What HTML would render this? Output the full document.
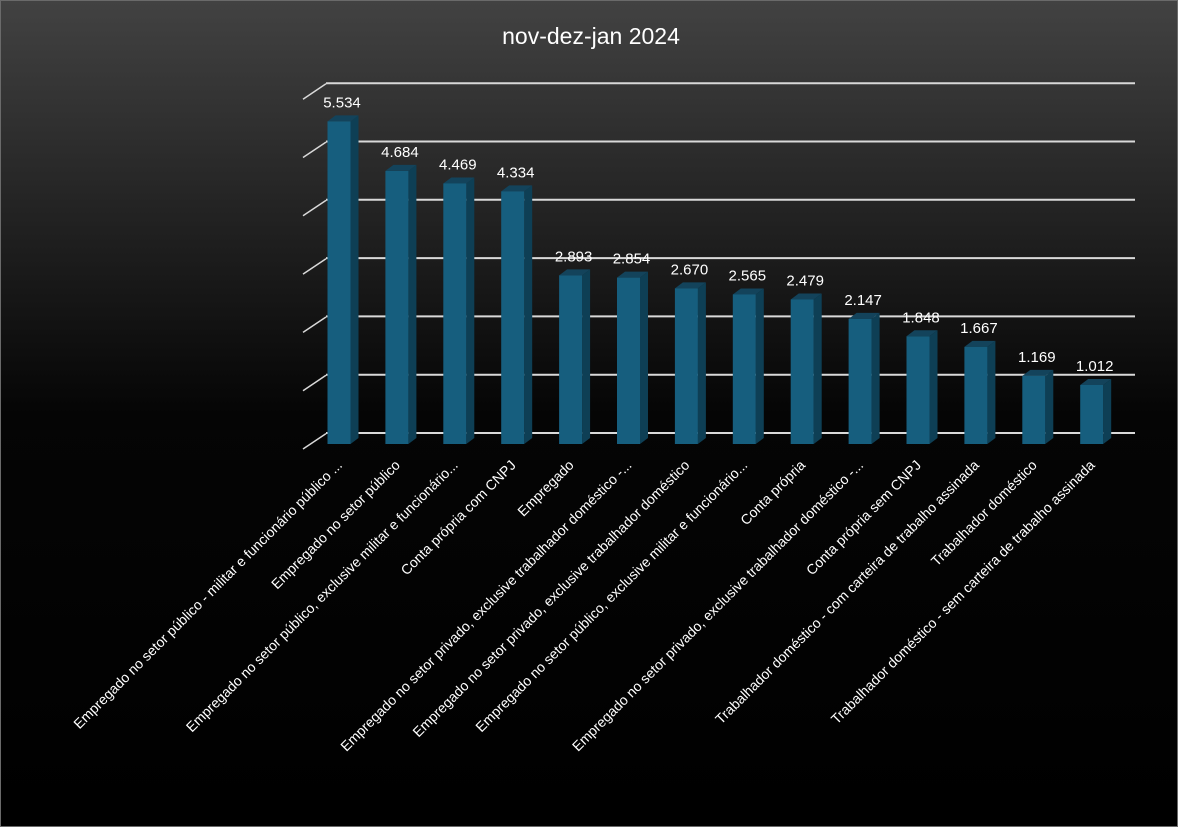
<!DOCTYPE html>
<html><head><meta charset="utf-8"><style>
html,body{margin:0;padding:0;background:#000;}
svg{display:block;font-family:"Liberation Sans",sans-serif;}
</style></head><body>
<svg width="1178" height="827" viewBox="0 0 1178 827">
<defs><linearGradient id="bg" x1="0" y1="0" x2="0" y2="1">
<stop offset="0" stop-color="#424242"/><stop offset="0.5" stop-color="#050505"/><stop offset="1" stop-color="#000"/></linearGradient></defs>
<rect x="0.5" y="0.5" width="1177" height="826" fill="url(#bg)" stroke="#6a6a6a"/>
<text x="591" y="44" text-anchor="middle" font-size="23" fill="#fff">nov-dez-jan 2024</text>
<g id="grid"></g><g id="bars"></g><g id="labels"></g>
</svg>
<script>
const categories=["Empregado no setor público - militar e funcionário público ...","Empregado no setor público","Empregado no setor público, exclusive militar e funcionário...","Conta própria com CNPJ","Empregado","Empregado no setor privado, exclusive trabalhador doméstico -...","Empregado no setor privado, exclusive trabalhador doméstico","Empregado no setor público, exclusive militar e funcionário...","Conta própria","Empregado no setor privado, exclusive trabalhador doméstico -...","Conta própria sem CNPJ","Trabalhador doméstico - com carteira de trabalho assinada","Trabalhador doméstico","Trabalhador doméstico - sem carteira de trabalho assinada"];
const values=[5.534,4.684,4.469,4.334,2.893,2.854,2.670,2.565,2.479,2.147,1.848,1.667,1.169,1.012];
const valueLabels=["5.534","4.684","4.469","4.334","2.893","2.854","2.670","2.565","2.479","2.147","1.848","1.667","1.169","1.012"];
const gridTicks=[0,1,2,3,4,5,6];
const NS="http://www.w3.org/2000/svg";
const base=444,unit=58.3,dx=8,dy=6,backDx=23,backDy=11;
function y(v){return base-v*unit;}
function x(i){return 339+i*57.9;}
function mk(t,a,p){const e=document.createElementNS(NS,t);for(const k in a)e.setAttribute(k,a[k]);p.appendChild(e);return e;}
const g=document.getElementById('grid'),b=document.getElementById('bars'),l=document.getElementById('labels');
gridTicks.forEach(t=>{
 const yy=y(t);
 const d=mk('line',{x1:303,y1:yy+5,x2:303+backDx,y2:yy+5-backDy*1.4,stroke:'#d9d9d9','stroke-width':1.5},g);
 
 
 const h=mk('line',{x1:303+backDx,y1:yy-backDy,x2:1135,y2:yy-backDy,stroke:'#d9d9d9','stroke-width':2},g);
 
 
});
values.forEach((v,i)=>{
 const cx=x(i),x0=cx-11.5,x1=cx+11.5,top=y(v);
 const side=mk('polygon',{points:`${x1},${base} ${x1+dx},${base-dy} ${x1+dx},${top-dy} ${x1},${top}`,fill:'#0e3f55'},b);
 
 
 const tp=mk('polygon',{points:`${x0},${top} ${x0+dx},${top-dy} ${x1+dx},${top-dy} ${x1},${top}`,fill:'#13435b'},b);
 
 
 const r=mk('rect',{x:x0,y:top,width:23,height:base-top,fill:'#165e7e'},b);
 
 
 const vt=mk('text',{x:cx+3,y:top-14,'text-anchor':'middle','font-size':15,fill:'#fff'},l);
 vt.textContent=valueLabels[i];
 
 
 const ct=mk('text',{x:cx+4,y:466,'text-anchor':'end','font-size':14,fill:'#fff',transform:`rotate(-45 ${cx+4} 466)`},l);
 ct.textContent=categories[i];
 
 
});
</script>
</body></html>
